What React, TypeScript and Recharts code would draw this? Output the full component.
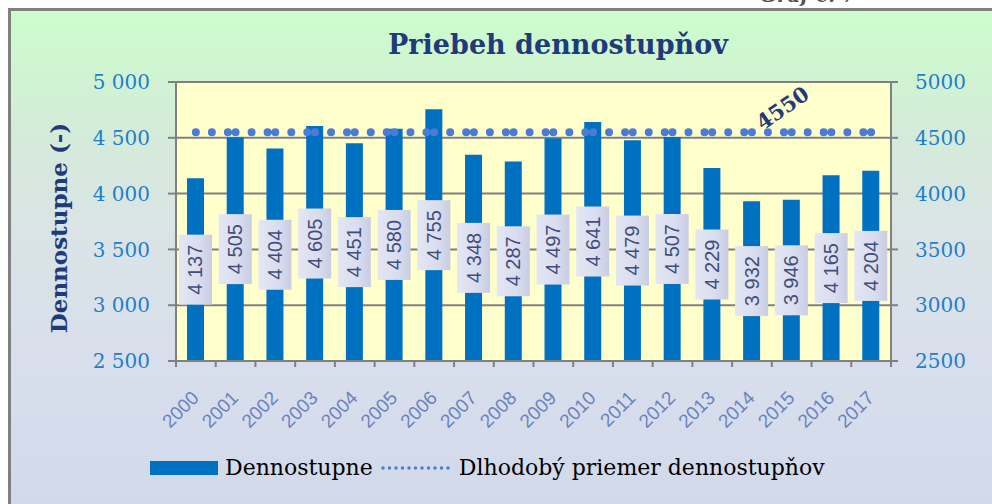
import { ComposedChart, Bar, Line, XAxis, YAxis, CartesianGrid, LabelList } from "recharts"

const years = [
  "2000", "2001", "2002", "2003", "2004", "2005", "2006", "2007", "2008",
  "2009", "2010", "2011", "2012", "2013", "2014", "2015", "2016", "2017",
]
const degreeDays = [
  4137, 4505, 4404, 4605, 4451, 4580, 4755, 4348, 4287,
  4497, 4641, 4479, 4507, 4229, 3932, 3946, 4165, 4204,
]
const longTermAvg = 4550
const yTicks = [2500, 3000, 3500, 4000, 4500, 5000]

const data = years.map((year, i) => ({ year, value: degreeDays[i], avg: longTermAvg }))

// plot box in page pixels
const plotLeft = 176
const plotRight = 891
const plotTop = 82
const plotBottom = 361
const band = (plotRight - plotLeft) / years.length

const serif = "'DejaVu Serif', 'Liberation Serif', serif"
const sans = "'Liberation Sans', Arial, sans-serif"

const spaced = (v: number) => String(v).replace(/\B(?=(\d{3})+(?!\d))/g, " ")

function YearTick(props: any) {
  const { x, y, payload, index } = props
  const half = band / 2
  const tx = x + 4
  const ty = y + 38
  return (
    <g>
      <line x1={x - half} x2={x - half} y1={y} y2={y + 6} stroke="#808080" strokeWidth={2} />
      {index === years.length - 1 && (
        <line x1={x + half} x2={x + half} y1={y} y2={y + 6} stroke="#808080" strokeWidth={2} />
      )}
      <text
        x={tx}
        y={ty}
        transform={`rotate(-45 ${tx} ${ty})`}
        textAnchor="end"
        fill="#6A82BE"
        fontSize={19}
        fontFamily={sans}
      >
        {payload.value}
      </text>
    </g>
  )
}

function ValueBox(props: any) {
  const { x, y, width, height, value, index } = props
  const cx = x + width / 2
  const cy = y + height / 2
  return (
    <g>
      {index === 0 && (
        <defs>
          <linearGradient id="boxFill" x1="0" y1="0" x2="1" y2="0">
            <stop offset="0%" stopColor="#E3E6F3" />
            <stop offset="60%" stopColor="#DADDEE" />
            <stop offset="100%" stopColor="#C8CDE3" />
          </linearGradient>
        </defs>
      )}
      <rect x={cx - 16.5} y={cy - 35} width={33} height={70} fill="url(#boxFill)" />
      <text
        x={cx}
        y={cy}
        transform={`rotate(-90 ${cx} ${cy})`}
        textAnchor="middle"
        dominantBaseline="central"
        fill="#3F4E7C"
        fontSize={20}
        fontFamily={sans}
      >
        {spaced(value)}
      </text>
    </g>
  )
}

function AvgLabel(props: any) {
  const { x, y, value, index } = props
  if (index !== 15) return null
  const tx = x - 5
  const ty = y - 18
  return (
    <text
      x={tx}
      y={ty}
      transform={`rotate(-35 ${tx} ${ty})`}
      textAnchor="middle"
      fill="#1F3B7A"
      fontSize={21}
      fontWeight="bold"
      fontFamily={serif}
    >
      {value}
    </text>
  )
}

export default function App() {
  return (
    <div style={{ position: "absolute", left: 0, top: 0, width: 992, height: 504, background: "#fff", overflow: "hidden" }}>
      <div
        style={{
          position: "absolute",
          left: 8,
          top: 8,
          width: 1000,
          height: 520,
          boxSizing: "border-box",
          borderLeft: "3px solid #808080",
          borderTop: "3px solid #808080",
          background: "linear-gradient(to bottom, #CCFDCC 0%, #D4ECD8 22%, #DAE4E6 42%, #D8DEEC 70%, #D0D8EA 100%)",
        }}
      />
      <div
        style={{
          position: "absolute",
          left: 760,
          top: -17,
          fontFamily: serif,
          fontStyle: "italic",
          fontWeight: "bold",
          fontSize: 20,
          color: "#555",
        }}
      >
        Graf č. 7
      </div>
      <div
        style={{
          position: "absolute",
          left: 300,
          width: 516,
          top: 29,
          textAlign: "center",
          fontFamily: serif,
          fontWeight: "bold",
          fontSize: 27,
          color: "#1F3B7A",
        }}
      >
        Priebeh dennostupňov
      </div>
      <div style={{ position: "absolute", left: 0, top: 0 }}>
        <ComposedChart
          width={992}
          height={504}
          data={data}
          margin={{ top: plotTop, right: 0, bottom: 0, left: 0 }}
          barCategoryGap={0}
        >
          <CartesianGrid
            yAxisId="left"
            vertical={false}
            fill="#FFFFCC"
            stroke="#808080"
            strokeWidth={2}
            horizontalValues={yTicks}
          />
          <XAxis
            dataKey="year"
            height={504 - plotBottom}
            axisLine={{ stroke: "#808080", strokeWidth: 2 }}
            tickLine={false}
            tickSize={0}
            tickMargin={0}
            interval={0}
            tick={<YearTick />}
          />
          <YAxis
            yAxisId="left"
            width={plotLeft}
            domain={[2500, 5000]}
            ticks={yTicks}
            allowDataOverflow
            axisLine={{ stroke: "#808080", strokeWidth: 2 }}
            tickLine={{ stroke: "#808080", strokeWidth: 2 }}
            tickSize={8}
            tickMargin={18}
            tickFormatter={spaced}
            tick={{ fill: "#1E80C8", fontSize: 20, fontFamily: serif }}
            label={{
              content: () => (
                <text
                  x={58}
                  y={228}
                  transform="rotate(-90 58 228)"
                  textAnchor="middle"
                  dominantBaseline="central"
                  fill="#1F3B7A"
                  fontSize={23}
                  fontWeight="bold"
                  fontFamily={serif}
                >
                  Dennostupne (-)
                </text>
              ),
            }}
          />
          <YAxis
            yAxisId="right"
            orientation="right"
            width={992 - plotRight}
            domain={[2500, 5000]}
            ticks={yTicks}
            allowDataOverflow
            axisLine={{ stroke: "#808080", strokeWidth: 2 }}
            tickLine={{ stroke: "#808080", strokeWidth: 2 }}
            tickSize={7}
            tickMargin={17}
            tick={{ fill: "#1E80C8", fontSize: 20, fontFamily: serif, textAnchor: "start" }}
          />
          <Bar yAxisId="left" dataKey="value" fill="#0070C0" barSize={17} isAnimationActive={false}>
            <LabelList dataKey="value" content={<ValueBox />} />
          </Bar>
          <Line
            yAxisId="left"
            dataKey="avg"
            stroke="#4A7BD6"
            strokeWidth={8}
            strokeLinecap="round"
            strokeDasharray={`0 16 0 16 0 ${(band - 32).toFixed(2)}`}
            dot={false}
            activeDot={false}
            isAnimationActive={false}
          >
            <LabelList dataKey="avg" content={<AvgLabel />} />
          </Line>
        </ComposedChart>
      </div>
      <div
        style={{
          position: "absolute",
          left: 150,
          top: 455,
          display: "flex",
          alignItems: "center",
          fontFamily: serif,
          fontSize: 22,
          color: "#000",
          whiteSpace: "nowrap",
        }}
      >
        <span style={{ display: "inline-block", width: 68, height: 14, background: "#0070C0", marginRight: 7 }} />
        <span>Dennostupne</span>
        <svg width={86} height={10}>
          <line x1={10} x2={78} y1={5} y2={5} stroke="#4A7BD6" strokeWidth={3.5} strokeLinecap="round" strokeDasharray="0 6.5" />
        </svg>
        <span>Dlhodobý priemer dennostupňov</span>
      </div>
    </div>
  )
}
